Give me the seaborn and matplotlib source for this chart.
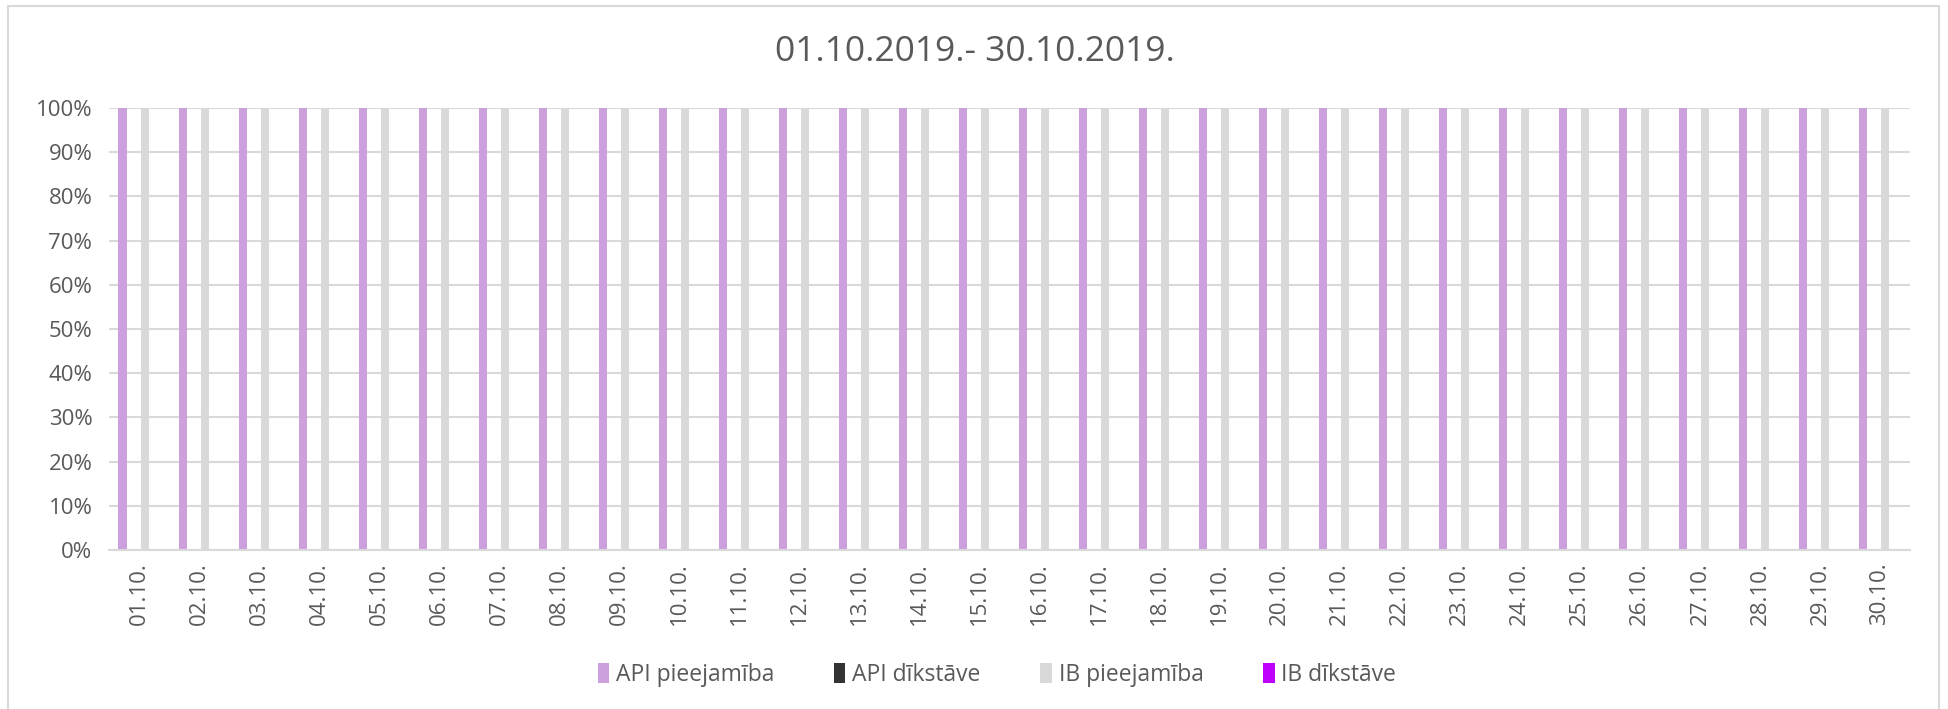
import matplotlib
matplotlib.use("Agg")
import matplotlib.pyplot as plt
import matplotlib.patches as mpatches
from matplotlib.ticker import FuncFormatter, MultipleLocator
import seaborn as sns
import pandas as pd

dates = ["01.10.", "02.10.", "03.10.", "04.10.", "05.10.", "06.10.", "07.10.", "08.10.",
         "09.10.", "10.10.", "11.10.", "12.10.", "13.10.", "14.10.", "15.10.", "16.10.",
         "17.10.", "18.10.", "19.10.", "20.10.", "21.10.", "22.10.", "23.10.", "24.10.",
         "25.10.", "26.10.", "27.10.", "28.10.", "29.10.", "30.10."]
api_pieejamiba = [100, 100, 100, 100, 100, 100, 100, 100, 100, 100,
                  100, 100, 100, 100, 100, 100, 100, 100, 100, 100,
                  100, 100, 100, 100, 100, 100, 100, 100, 100, 100]
api_dikstave = [0, 0, 0, 0, 0, 0, 0, 0, 0, 0,
                0, 0, 0, 0, 0, 0, 0, 0, 0, 0,
                0, 0, 0, 0, 0, 0, 0, 0, 0, 0]
ib_pieejamiba = [100, 100, 100, 100, 100, 100, 100, 100, 100, 100,
                 100, 100, 100, 100, 100, 100, 100, 100, 100, 100,
                 100, 100, 100, 100, 100, 100, 100, 100, 100, 100]
ib_dikstave = [0, 0, 0, 0, 0, 0, 0, 0, 0, 0,
               0, 0, 0, 0, 0, 0, 0, 0, 0, 0,
               0, 0, 0, 0, 0, 0, 0, 0, 0, 0]
series_names = ["API pieejamība", "API dīkstāve", "IB pieejamība", "IB dīkstāve"]
series_colors = ["#CC9FDD", "#333333", "#D9D9D9", "#BF00FF"]
title = "01.10.2019.- 30.10.2019."

rows = []
for name, vals in zip(series_names, [api_pieejamiba, api_dikstave, ib_pieejamiba, ib_dikstave]):
    for d, v in zip(dates, vals):
        rows.append({"date": d, "series": name, "value": v})
df = pd.DataFrame(rows)

sns.set_theme(style="white")
plt.rcParams["font.family"] = ["Open Sans", "DejaVu Sans"]
text_color = "#595959"
grid_color = "#D9D9D9"

fig = plt.figure(figsize=(19.48, 7.09), dpi=100)
W, H = 1948, 709
ax = fig.add_axes([109 / W, 1 - 550 / H, (1910 - 109) / W, (550 - 108) / H])

sns.barplot(data=df, x="date", y="value", hue="series", order=dates,
            hue_order=series_names, palette=dict(zip(series_names, series_colors)),
            saturation=1, width=0.733, gap=0.27, linewidth=0, ax=ax, legend=True)

ax.set_xlim(-0.5, len(dates) - 0.5)
ax.set_ylim(0, 100)
ax.yaxis.set_major_locator(MultipleLocator(10))
ax.yaxis.set_major_formatter(FuncFormatter(lambda v, p: f"{int(round(v))}%"))
ax.set_axisbelow(True)
ax.grid(axis="y", color=grid_color, linewidth=1.5)
ax.grid(axis="x", visible=False)
for s in ["left", "right", "top"]:
    ax.spines[s].set_visible(False)
ax.spines["bottom"].set_color(grid_color)
ax.spines["bottom"].set_linewidth(1.5)
ax.set_xlabel("")
ax.set_ylabel("")
ax.tick_params(axis="both", length=0, colors=text_color, labelsize=16)
ax.tick_params(axis="x", pad=9)
ax.tick_params(axis="y", pad=12)
for lbl in ax.get_xticklabels():
    lbl.set_rotation(90)

handles, labels = ax.get_legend_handles_labels()
ax.get_legend().remove()
leg = fig.legend(handles, labels, loc="center", bbox_to_anchor=(997 / W, 1 - 675 / H),
                 ncol=4, frameon=False, fontsize=16.5, handlelength=0.5, handleheight=1.0,
                 handletextpad=0.3, columnspacing=2.6)
for t in leg.get_texts():
    t.set_color(text_color)

fig.text(975 / W, 1 - 52 / H, title, ha="center", va="center", fontsize=25.5, color=text_color)

border = mpatches.Rectangle((8 / W, -0.02), (1939 - 8) / W, (709 - 6) / H + 0.02,
                            transform=fig.transFigure, fill=False, edgecolor="#D9D9D9",
                            linewidth=1.5, clip_on=False)
fig.patches.append(border)

fig.savefig("out.png", dpi=100, facecolor="white")
